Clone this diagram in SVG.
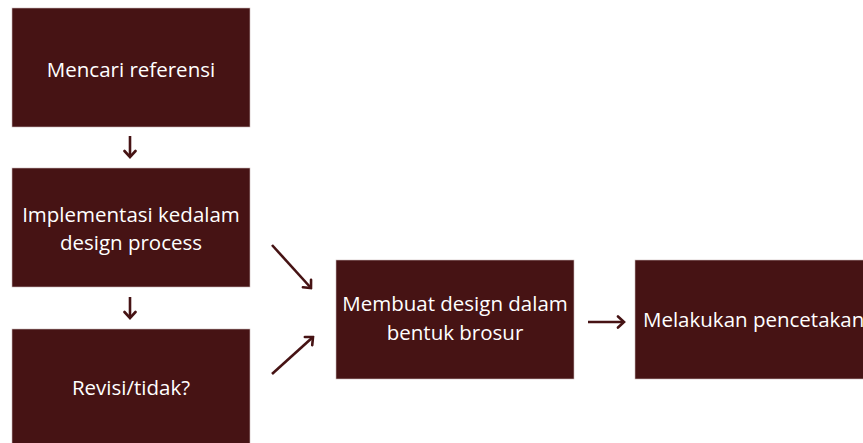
<svg xmlns="http://www.w3.org/2000/svg" width="863" height="443" viewBox="0 0 863 443">
<style>
.box{fill:#461314;stroke:#c9b8b8;stroke-width:0.6}
.t{font-family:"Open Sans",sans-serif;font-size:20.5px;fill:#ffffff;text-anchor:middle}
.c{stroke:#461314;stroke-width:2.6;fill:none;stroke-linecap:butt}
</style>
<defs>
<marker id="ah" viewBox="0 0 14 14" refX="12" refY="7" markerWidth="14" markerHeight="14" orient="auto" markerUnits="userSpaceOnUse">
<path d="M6,1.5 L12,7 L6,12.5" fill="none" stroke="#461314" stroke-width="2.6" stroke-linecap="round" stroke-linejoin="miter"/>
</marker>
</defs>
<rect width="863" height="443" fill="#ffffff"/>
<g id="n1"><rect class="box" x="12" y="8" width="238" height="119"/><text class="t" x="131" y="77">Mencari referensi</text></g>
<g id="n2"><rect class="box" x="12" y="168" width="238" height="119"/><text class="t" x="131" y="222">Implementasi kedalam</text><text class="t" x="131" y="250">design process</text></g>
<g id="n3"><rect class="box" x="12" y="329" width="238" height="120"/><text class="t" x="131" y="395">Revisi/tidak?</text></g>
<g id="n4"><rect class="box" x="336" y="260" width="238" height="119"/><text class="t" x="455" y="311">Membuat design dalam</text><text class="t" x="455" y="340">bentuk brosur</text></g>
<g id="n5"><rect class="box" x="635" y="260" width="240" height="119"/><text class="t" x="643" y="327" style="text-anchor:start">Melakukan pencetakan</text></g>
<g id="connectors">
<path class="c" d="M130,136 V157" marker-end="url(#ah)"/>
<path class="c" d="M130,297 V318" marker-end="url(#ah)"/>
<path class="c" d="M272,245 L311,288" marker-end="url(#ah)"/>
<path class="c" d="M272,374 L313,337" marker-end="url(#ah)"/>
<path class="c" d="M588,322 H624" marker-end="url(#ah)"/>
</g>
</svg>
